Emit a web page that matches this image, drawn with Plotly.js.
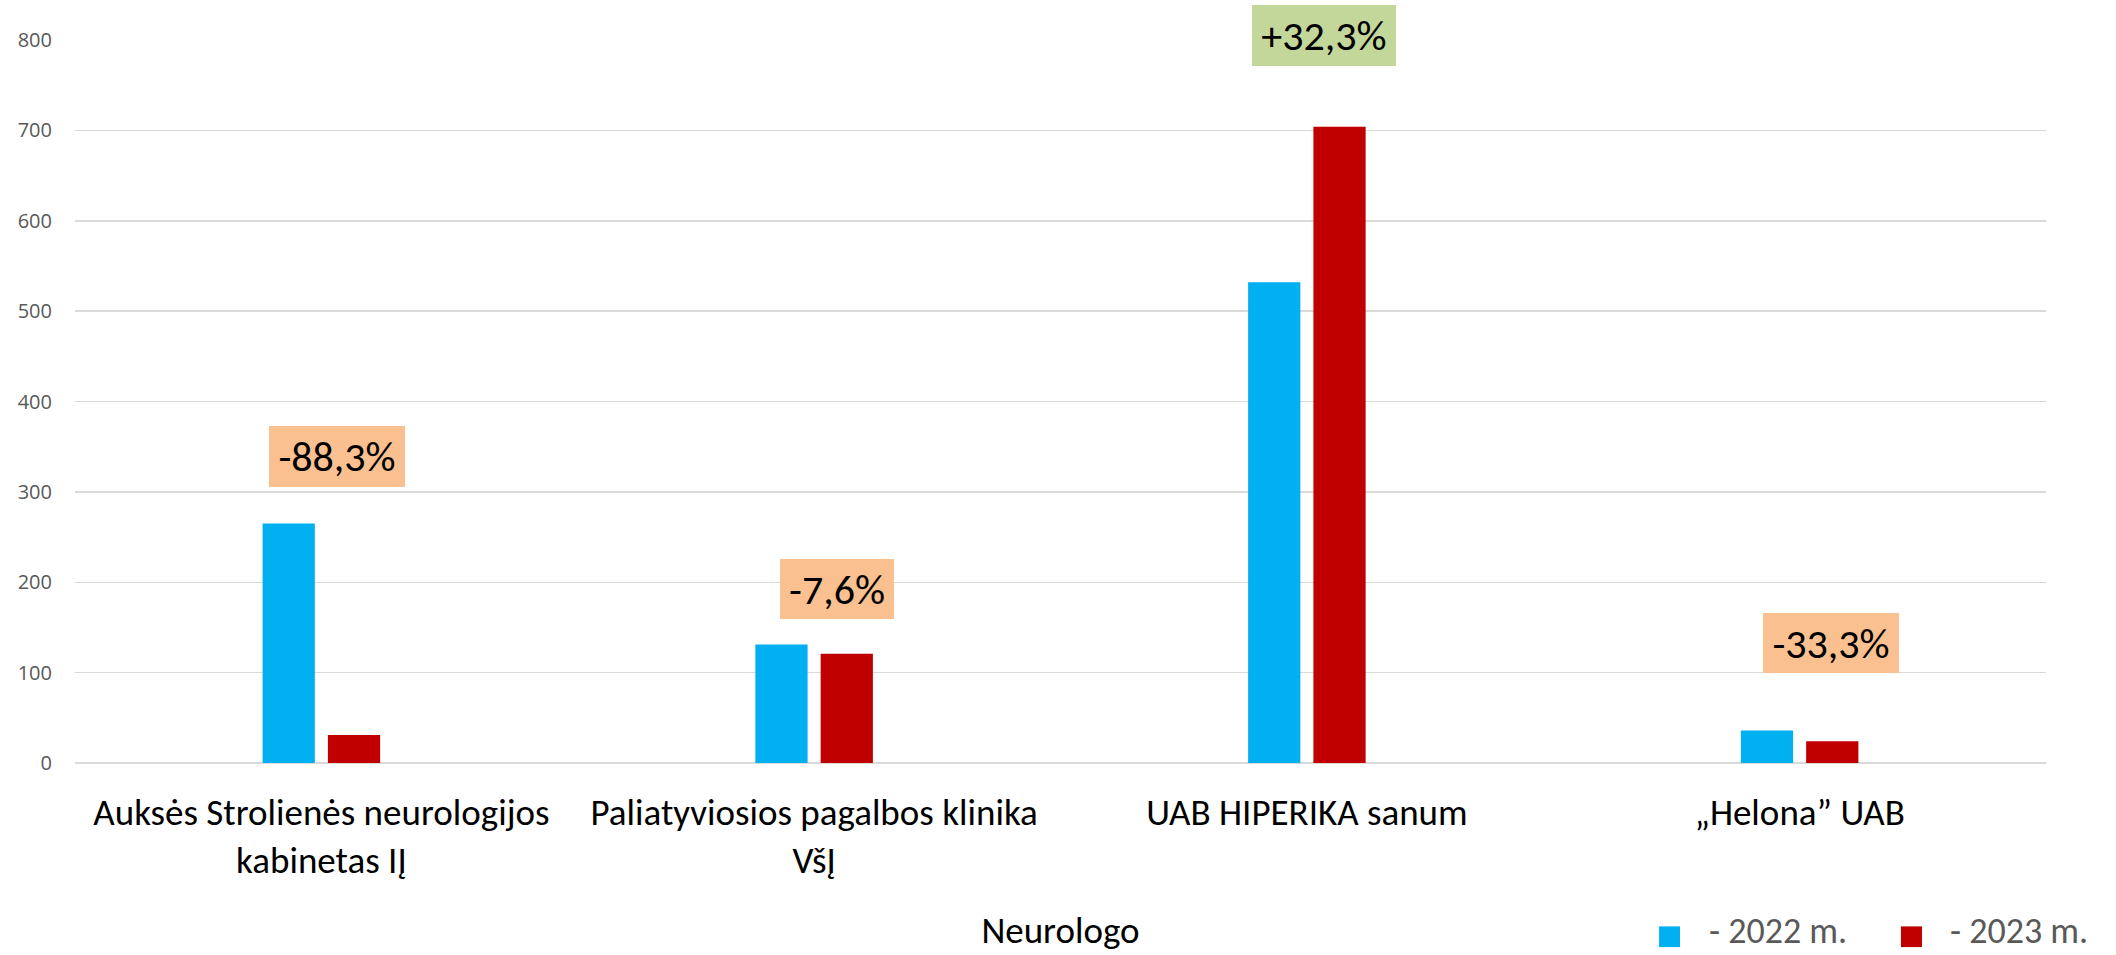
<!DOCTYPE html>
<html>
<head>
<meta charset="utf-8">
<script src="https://cdn.plot.ly/plotly-3.0.1.min.js"></script>
<style>
  html, body { margin: 0; padding: 0; background: #fff; }
  #chart { width: 2116px; height: 955px; }
</style>
</head>
<body>
<div id="chart"></div>
<script>
// ---- data ----
const categories = [
  "Auksės Strolienės neurologijos<br>kabinetas IĮ",
  "Paliatyviosios pagalbos klinika<br>VšĮ",
  "UAB HIPERIKA sanum",
  "„Helona” UAB"
];
const seriesNames = ["- 2022 m.", "- 2023 m."];
const values2022 = [265, 131, 532, 36];
const values2023 = [31, 121, 704, 24];
const changeLabels = ["-88,3%", "-7,6%", "+32,3%", "-33,3%"];
const axisTitle = "Neurologo";
const yTicks = [0, 100, 200, 300, 400, 500, 600, 700, 800];

// ---- styles ----
const FONT = "Carlito, Lato, sans-serif";
const colors = ["#00B0F0", "#C00000"];
const boxColors = ["#FAC090", "#FAC090", "#C4D79B", "#FAC090"];
const boxSizes = [[136, 61], [114, 60], [144, 61], [136, 60]];
const boxShift = [16, 23, 17, 31];
const boxY = [339.3, 192.4, 805.1, 132.3];
const Y_MAX = 800;
const PX_PER_UNIT = 722.7 / 800;

const traces = [
  { type: "bar", name: seriesNames[0], x: categories, y: values2022,
    marker: { color: colors[0] }, hoverinfo: "x+y" },
  { type: "bar", name: seriesNames[1], x: categories, y: values2023,
    marker: { color: colors[1] }, hoverinfo: "x+y" }
];

const annotations = changeLabels.map((t, i) => {
  const yy = Math.min(boxY[i], Y_MAX);
  return {
    x: categories[i], y: yy, xref: "x", yref: "y",
    xshift: boxShift[i], yshift: (boxY[i] - yy) * PX_PER_UNIT,
    xanchor: "center", yanchor: "middle",
    text: t, showarrow: false,
    font: { family: FONT, size: 42, color: "#000" },
    bgcolor: boxColors[i], borderpad: 0, borderwidth: 0,
    width: boxSizes[i][0], height: boxSizes[i][1], valign: "middle"
  };
});

// manual legend
const legendX = [[0.8037, 0.8143, 0.8278], [0.9264, 0.9371, 0.9503]];
const shapes = [];
seriesNames.forEach((n, i) => {
  shapes.push({ type: "rect", xref: "paper", yref: "paper",
    x0: legendX[i][0], x1: legendX[i][1], y0: -0.2546, y1: -0.2260,
    fillcolor: colors[i], line: { width: 0 } });
  annotations.push({ xref: "paper", yref: "paper", x: legendX[i][2], y: -0.2655,
    xanchor: "left", yanchor: "bottom", text: n, showarrow: false,
    font: { family: FONT, size: 36, color: "#595959" } });
});

const layout = {
  width: 2116, height: 955,
  margin: { l: 75, r: 70, t: 40, b: 192 },
  paper_bgcolor: "#fff", plot_bgcolor: "#fff",
  showlegend: false,
  barmode: "group", bargap: 0.735, bargroupgap: 0.2,
  xaxis: {
    type: "category", showgrid: false, showline: false, ticks: "",
    tickfont: { family: FONT, size: 37, color: "#000" },
    ticklabelstandoff: 24,
    title: { text: axisTitle, font: { family: FONT, size: 37, color: "#000" }, standoff: 35 },
    automargin: false, fixedrange: true
  },
  yaxis: {
    range: [0, Y_MAX], tickvals: yTicks, ticks: "",
    tickfont: { family: "Open Sans, sans-serif", size: 20, color: "#595959" },
    showgrid: true, gridcolor: "#D9D9D9", gridwidth: 1.5,
    zeroline: true, zerolinecolor: "#D9D9D9", zerolinewidth: 1.5,
    showline: false, ticklabelstandoff: 22, automargin: false, fixedrange: true
  },
  annotations: annotations,
  shapes: shapes
};

Plotly.newPlot("chart", traces, layout, { displayModeBar: false, staticPlot: true });
</script>
</body>
</html>
